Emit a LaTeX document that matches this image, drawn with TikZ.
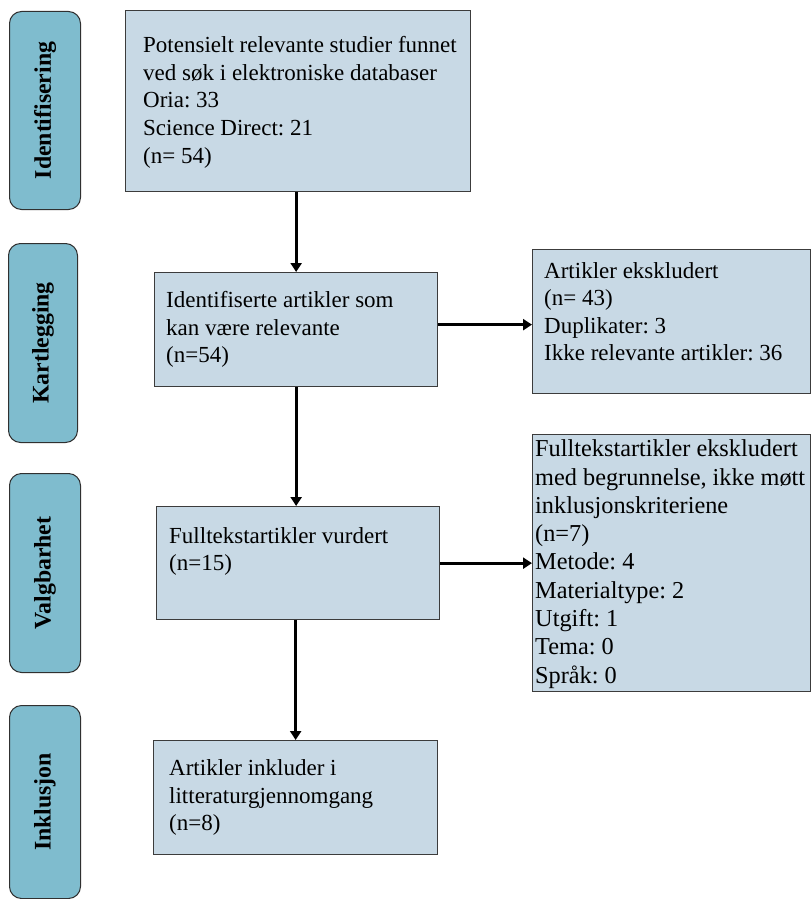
\documentclass[tikz,border=0pt]{standalone}
\usepackage{fontspec}
\setmainfont{Liberation Serif}
\usetikzlibrary{arrows.meta,calc}
\definecolor{boxfill}{RGB}{200,217,229}
\definecolor{labfill}{RGB}{127,188,206}
\definecolor{edge}{RGB}{60,60,60}
\tikzset{
  mainbox/.style={draw=edge, line width=1.3pt, fill=boxfill, rectangle, inner sep=0pt, anchor=north west},
  labbox/.style={draw=edge!80!black, line width=1pt, fill=labfill, rounded corners=12pt, inner sep=0pt, anchor=north west},
  labtxt/.style={rotate=90, font=\fontsize{23.8}{27}\selectfont\bfseries, inner sep=0pt},
  boxtxt/.style={anchor=base west, inner sep=0pt},
  flow/.style={line width=3pt, -{Triangle[width=11pt,length=9pt]}}
}
\frenchspacing
\newcommand{\btext}[1]{\parbox[t]{420pt}{\raggedright\frenchspacing\fontsize{23}{27.6}\selectfont #1}}
\newcommand{\btextb}[1]{\parbox[t]{420pt}{\raggedright\frenchspacing\fontsize{24.3}{28.3}\selectfont #1}}
\begin{document}
\begin{tikzpicture}[x=1pt,y=-1pt]
\useasboundingbox (0,0) rectangle (811,899);
% stage labels
\node[labbox, minimum width=71pt, minimum height=198pt] (l1) at (9,11) {};
\node[labtxt] (lt1) at (l1.center) {Identifisering};
\node[labbox, minimum width=69pt, minimum height=199pt] (l2) at (8,243) {};
\node[labtxt] (lt2) at (l2.center) {Kartlegging};
\node[labbox, minimum width=71pt, minimum height=199pt] (l3) at (9,473) {};
\node[labtxt] (lt3) at (l3.center) {Valgbarhet};
\node[labbox, minimum width=71pt, minimum height=193pt] (l4) at (9,705) {};
\node[labtxt] (lt4) at (l4.center) {Inklusjon};
% main boxes
\node[mainbox, minimum width=345pt, minimum height=181pt] (b1) at (125,10) {};
\node[boxtxt] (t1) at (143,52.7) {\btext{Potensielt relevante studier funnet\\ved søk i elektroniske databaser\\Oria: 33\\Science Direct: 21\\(n= 54)}};
\node[mainbox, minimum width=283pt, minimum height=114pt] (b2) at (154,272) {};
\node[boxtxt] (t2) at (166,307.7) {\btext{Identifiserte artikler som\\kan være relevante\\(n=54)}};
\node[mainbox, minimum width=283pt, minimum height=113pt] (b3) at (156,506) {};
\node[boxtxt] (t3) at (169,543) {\btext{Fulltekstartikler vurdert\\(n=15)}};
\node[mainbox, minimum width=284pt, minimum height=114pt] (b4) at (153,740) {};
\node[boxtxt] (t4) at (169,775.7) {\btext{Artikler inkluder i\\litteraturgjennomgang\\(n=8)}};
\node[mainbox, minimum width=278pt, minimum height=144pt] (b5) at (532,249) {};
\node[boxtxt] (t5) at (544,278) {\btext{Artikler ekskludert\\(n= 43)\\Duplikater: 3\\Ikke relevante artikler: 36}};
\node[mainbox, minimum width=278pt, minimum height=257pt] (b6) at (532,434) {};
\node[boxtxt] (t6) at (535,456.7) {\btextb{Fulltekstartikler ekskludert\\med begrunnelse, ikke møtt\\inklusjonskriteriene\\(n=7)\\Metode: 4\\Materialtype: 2\\Utgift: 1\\Tema: 0\\Språk: 0}};
% connectors
\draw[flow] (b2.north |- b1.south) -- (b2.north);
\draw[flow] (b2.south) -- (b2.south |- b3.north);
\draw[flow] (b4.north |- b3.south) -- (b4.north);
\draw[flow] ([yshift=5pt]b2.east) -- ([yshift=5pt]b2.east -| b5.west);
\draw[flow] (b3.east) -- (b3.east -| b6.west);
\end{tikzpicture}
\end{document}
